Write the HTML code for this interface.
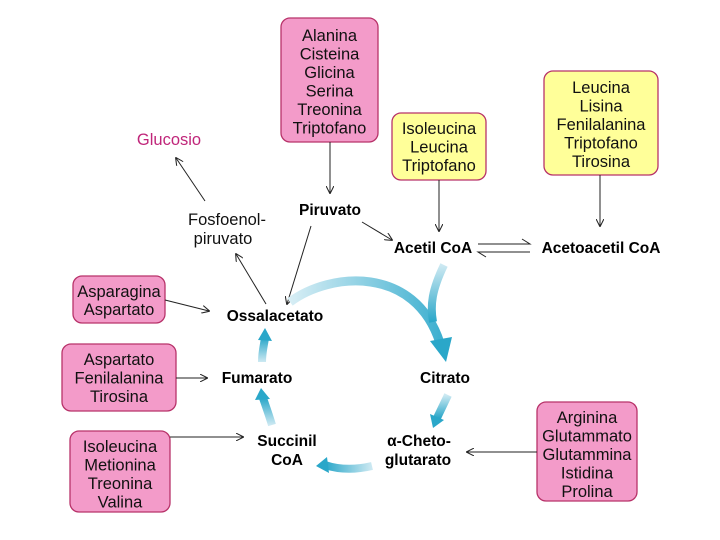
<!DOCTYPE html>
<html><head><meta charset="utf-8"><style>
html,body{margin:0;padding:0;background:#fff;}
svg{display:block;font-family:"Liberation Sans",sans-serif;}
.b{font-size:16.5px;fill:#111;text-anchor:middle;}
.k{font-size:15.5px;font-weight:bold;fill:#000;text-anchor:middle;}
.pk{fill:#f39bc9;stroke:#b8336a;stroke-width:1.3;}
.yl{fill:#ffff99;stroke:#b8336a;stroke-width:1.3;}
.ln{stroke:#222;stroke-width:1;fill:none;marker-end:url(#ah);}
</style></head><body>
<svg width="720" height="540" viewBox="0 0 720 540">
<defs>
<marker id="ah" viewBox="0 0 10 10" refX="9" refY="5" markerWidth="8" markerHeight="8" orient="auto" markerUnits="userSpaceOnUse"><path d="M0,0 L10,5 L0,10" fill="none" stroke="#222" stroke-width="1.3"/></marker>
<linearGradient id="g1" x1="0" y1="0" x2="1" y2="0"><stop offset="0" stop-color="#d8eef5"/><stop offset="1" stop-color="#3fb0d0"/></linearGradient>
<linearGradient id="g2" x1="0" y1="0" x2="0" y2="1"><stop offset="0" stop-color="#cde9f2"/><stop offset="1" stop-color="#2aa7c9"/></linearGradient>
<linearGradient id="g3" x1="0" y1="1" x2="0" y2="0"><stop offset="0" stop-color="#cde9f2"/><stop offset="1" stop-color="#2aa7c9"/></linearGradient>
<linearGradient id="g4" x1="1" y1="0" x2="0" y2="0"><stop offset="0" stop-color="#cde9f2"/><stop offset="1" stop-color="#2aa7c9"/></linearGradient>
</defs>

<rect class="pk" x="281" y="18" width="97" height="124" rx="9"/>
<rect class="yl" x="392" y="113" width="94" height="67" rx="9"/>
<rect class="yl" x="544" y="71" width="114" height="104" rx="9"/>
<rect class="pk" x="73" y="276" width="92" height="47" rx="9"/>
<rect class="pk" x="62" y="344" width="114" height="67" rx="9"/>
<rect class="pk" x="70" y="431" width="100" height="81" rx="9"/>
<rect class="pk" x="537" y="402" width="100" height="99" rx="9"/>

<text class="b" x="329.5" y="41">Alanina</text>
<text class="b" x="329.5" y="59.5">Cisteina</text>
<text class="b" x="329.5" y="78">Glicina</text>
<text class="b" x="329.5" y="96.5">Serina</text>
<text class="b" x="329.5" y="115">Treonina</text>
<text class="b" x="329.5" y="133.5">Triptofano</text>

<text class="b" x="439" y="134">Isoleucina</text>
<text class="b" x="439" y="152.5">Leucina</text>
<text class="b" x="439" y="171">Triptofano</text>

<text class="b" x="601" y="93">Leucina</text>
<text class="b" x="601" y="111.5">Lisina</text>
<text class="b" x="601" y="130">Fenilalanina</text>
<text class="b" x="601" y="148.5">Triptofano</text>
<text class="b" x="601" y="167">Tirosina</text>

<text class="b" x="119" y="297">Asparagina</text>
<text class="b" x="119" y="315">Aspartato</text>

<text class="b" x="119" y="365">Aspartato</text>
<text class="b" x="119" y="383.5">Fenilalanina</text>
<text class="b" x="119" y="402">Tirosina</text>

<text class="b" x="120" y="452">Isoleucina</text>
<text class="b" x="120" y="470.5">Metionina</text>
<text class="b" x="120" y="489">Treonina</text>
<text class="b" x="120" y="507.5">Valina</text>

<text class="b" x="587" y="423">Arginina</text>
<text class="b" x="587" y="441.5">Glutammato</text>
<text class="b" x="587" y="460">Glutammina</text>
<text class="b" x="587" y="478.5">Istidina</text>
<text class="b" x="587" y="497">Prolina</text>

<text class="b" x="169" y="145" style="fill:#c0267a">Glucosio</text>
<text class="b" x="227" y="225">Fosfoenol-</text>
<text class="b" x="223" y="244">piruvato</text>
<text class="k" x="330" y="215">Piruvato</text>
<text class="k" x="433" y="253">Acetil CoA</text>
<text class="k" x="601" y="253">Acetoacetil CoA</text>
<text class="k" x="275" y="321">Ossalacetato</text>
<text class="k" x="257" y="383">Fumarato</text>
<text class="k" x="445" y="383">Citrato</text>
<text class="k" x="287" y="446">Succinil</text>
<text class="k" x="287" y="465">CoA</text>
<text class="k" x="419" y="446">α-Cheto-</text>
<text class="k" x="418" y="465">glutarato</text>

<line class="ln" x1="330" y1="142" x2="330" y2="193"/>
<line class="ln" x1="362" y1="222" x2="392" y2="240"/>
<line class="ln" x1="311" y1="226" x2="287" y2="304"/>
<line class="ln" x1="266" y1="304" x2="236" y2="254"/>
<line class="ln" x1="205" y1="201" x2="176" y2="158"/>
<line class="ln" x1="439" y1="180" x2="439" y2="231"/>
<line class="ln" x1="600" y1="175" x2="600" y2="226"/>
<line class="ln" x1="165" y1="300" x2="209" y2="311"/>
<line class="ln" x1="176" y1="378" x2="207" y2="378"/>
<line class="ln" x1="170" y1="437" x2="243" y2="437"/>
<line class="ln" x1="537" y1="452" x2="467" y2="452"/>
<path d="M478,244 H530 L522,239" fill="none" stroke="#222" stroke-width="1"/>
<path d="M530,252 H478 L486,257" fill="none" stroke="#222" stroke-width="1"/>

<path d="M290,302 C330,272 415,265 440,343" fill="none" stroke="url(#g1)" stroke-width="9"/>
<path d="M444,265 C432,290 430,305 433,322" fill="none" stroke="url(#g2)" stroke-width="8"/>
<path d="M430,341 L446,362 L452,337 Z" fill="#2aa7c9"/>
<path d="M448,395 L437,418" fill="none" stroke="url(#g2)" stroke-width="8"/>
<path d="M430,414 L433,428 L444,420 Z" fill="#2aa7c9"/>
<path d="M372,466 C355,470 340,470 325,465" fill="none" stroke="url(#g4)" stroke-width="8"/>
<path d="M327,457 L316,466 L329,473 Z" fill="#2aa7c9"/>
<path d="M272,425 C268,412 265,404 263,398" fill="none" stroke="url(#g3)" stroke-width="8"/>
<path d="M255,400 L261,388 L270,399 Z" fill="#2aa7c9"/>
<path d="M262,362 C262,352 264,345 265,338" fill="none" stroke="url(#g3)" stroke-width="8"/>
<path d="M258,340 L265,328 L272,341 Z" fill="#2aa7c9"/>
</svg>
</body></html>
